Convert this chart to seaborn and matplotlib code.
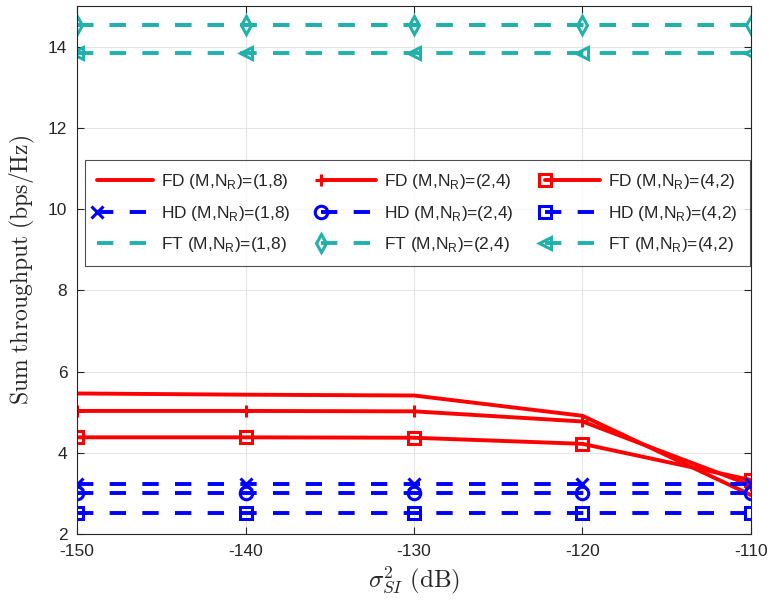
import numpy as np
import pandas as pd
import matplotlib
matplotlib.use("Agg")
import matplotlib.pyplot as plt
import seaborn as sns

x_db = [-150, -140, -130, -120, -110]
fd_18 = [5.46, 5.43, 5.41, 4.91, 2.96]
fd_24 = [5.03, 5.03, 5.02, 4.77, 3.20]
fd_42 = [4.38, 4.38, 4.37, 4.22, 3.33]
hd_18 = [3.22, 3.22, 3.22, 3.22, 3.22]
hd_24 = [3.01, 3.01, 3.01, 3.01, 3.01]
hd_42 = [2.51, 2.51, 2.51, 2.51, 2.51]
ft_18 = [14.54, 14.54, 14.54, 14.54, 14.54]
ft_24 = [14.54, 14.54, 14.54, 14.54, 14.54]
ft_42 = [13.84, 13.84, 13.84, 13.84, 13.84]

labels = [r'FD (M,N$_\mathregular{R}$)=(1,8)', r'FD (M,N$_\mathregular{R}$)=(2,4)', r'FD (M,N$_\mathregular{R}$)=(4,2)',
          r'HD (M,N$_\mathregular{R}$)=(1,8)', r'HD (M,N$_\mathregular{R}$)=(2,4)', r'HD (M,N$_\mathregular{R}$)=(4,2)',
          r'FT (M,N$_\mathregular{R}$)=(1,8)', r'FT (M,N$_\mathregular{R}$)=(2,4)', r'FT (M,N$_\mathregular{R}$)=(4,2)']

sns.set_theme(style="whitegrid")
plt.rcParams['font.family'] = ['Liberation Sans', 'DejaVu Sans']
plt.rcParams['mathtext.fontset'] = 'custom'
plt.rcParams['mathtext.rm'] = 'Liberation Sans'
plt.rcParams['axes.unicode_minus'] = False

red = '#FF0000'
blue = '#0000FF'
teal = '#20B2AA'

series = [
    (fd_18, labels[0], red, '-', None),
    (fd_24, labels[1], red, '-', '+'),
    (fd_42, labels[2], red, '-', 's'),
    (hd_18, labels[3], blue, '--', 'x'),
    (hd_24, labels[4], blue, '--', 'o'),
    (hd_42, labels[5], blue, '--', 's'),
    (ft_18, labels[6], teal, '--', None),
    (ft_24, labels[7], teal, '--', 'd'),
    (ft_42, labels[8], teal, '--', '<'),
]

fig = plt.figure(figsize=(7.69, 6.12), dpi=100)
ax = fig.add_axes([77/769, 1-534/612, (751-77)/769, (534-6)/612])

for vals, lab, col, ls, mk in series:
    df = pd.DataFrame({'x': x_db, 'y': vals})
    kw = dict(marker=mk, markersize=9, markeredgewidth=2.2, markerfacecolor='none',
              markeredgecolor=col) if mk else {}
    sns.lineplot(data=df, x='x', y='y', ax=ax, color=col, linewidth=2.8,
                 linestyle=ls, label=lab, **kw)
for ln in ax.get_lines():
    if ln.get_linestyle() == '--':
        ln.set_dashes([4.2, 4.2])

ax.set_xlim(-150, -110)
ax.set_ylim(2, 15)
ax.set_xticks([-150, -140, -130, -120, -110])
ax.set_yticks([2, 4, 6, 8, 10, 12, 14])
ax.tick_params(direction='in', length=5, labelsize=12.5, colors='#262626', width=0.8,
               top=True, right=True, bottom=True, left=True, pad=7)
ax.grid(True, color='#E5E5E5', linewidth=0.8)
for sp in ax.spines.values():
    sp.set_edgecolor('#262626')
    sp.set_linewidth(0.8)
ax.set_facecolor('white')

ax.set_ylabel(r'$\mathrm{Sum\ throughput\ (bps/Hz)}$', fontsize=17, color='#262626',
              math_fontfamily='cm', labelpad=8)
ax.set_xlabel(r'$\sigma^2_{SI}\ \mathrm{(dB)}$', fontsize=18, color='#262626',
              math_fontfamily='cm', labelpad=4)

h, l = ax.get_legend_handles_labels()
order = [0, 3, 6, 1, 4, 7, 2, 5, 8]
leg = ax.legend([h[i] for i in order], [l[i] for i in order], ncol=3,
                loc='upper left', bbox_to_anchor=(0.012, 0.5, 0.986, 0.208),
                mode='expand', fontsize=12.5, frameon=True, fancybox=False,
                edgecolor='#262626', handlelength=3.2, numpoints=1,
                borderaxespad=0, columnspacing=0.5, handletextpad=0.45,
                labelspacing=0.72, borderpad=0.7)
leg.get_frame().set_linewidth(0.8)
for lh in leg.get_lines():
    lh.set_markevery([0])

fig.savefig('out.png', dpi=100, facecolor='white')
